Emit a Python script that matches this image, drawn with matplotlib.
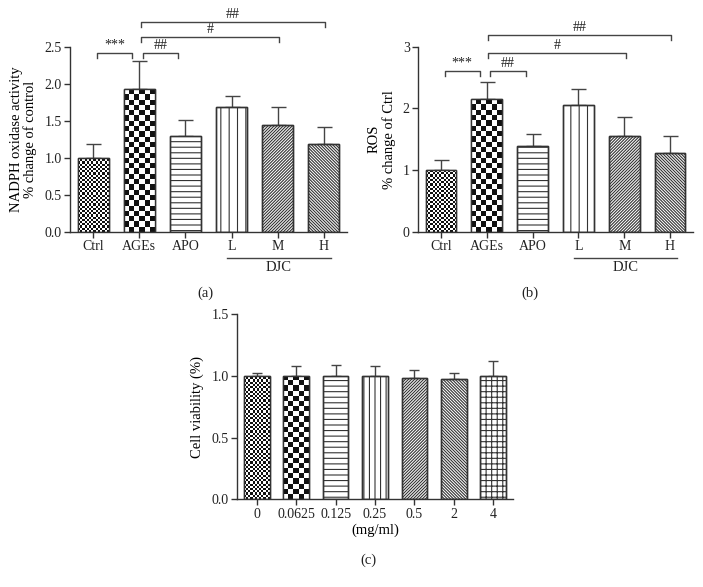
import numpy as np
import matplotlib
matplotlib.use("Agg")
import matplotlib.pyplot as plt
from matplotlib.colors import ListedColormap
from matplotlib.transforms import blended_transform_factory

plt.rcParams['font.family'] = ['Liberation Serif', 'DejaVu Serif']
plt.rcParams['font.size'] = 10
plt.rcParams['hatch.linewidth'] = 0.8
plt.rcParams['hatch.color'] = '#333333'
plt.rcParams['text.color'] = '#222222'
plt.rcParams['xtick.color'] = '#333333'
plt.rcParams['ytick.color'] = '#333333'
plt.rcParams['xtick.labelcolor'] = '#222222'
plt.rcParams['ytick.labelcolor'] = '#222222'

# ---- data ----
groups_ab = ['Ctrl', 'AGEs', 'APO', 'L', 'M', 'H']
nadph_mean = [1.00, 1.93, 1.29, 1.69, 1.44, 1.18]
nadph_err = [0.19, 0.37, 0.22, 0.14, 0.24, 0.23]
ros_mean = [1.00, 2.15, 1.39, 2.05, 1.55, 1.27]
ros_err = [0.17, 0.28, 0.19, 0.26, 0.31, 0.28]

dose_labels = ['0', '0.0625', '0.125', '0.25', '0.5', '2', '4']
viab_mean = [1.00, 1.00, 1.00, 1.00, 0.98, 0.97, 1.00]
viab_err = [0.02, 0.08, 0.09, 0.08, 0.07, 0.05, 0.12]

# (left index, right index, height, label)
sig_a = [(0, 1, 2.42, '***'), (1, 2, 2.42, '##'), (1, 4, 2.63, '#'), (1, 5, 2.84, '##')]
sig_b = [(0, 1, 2.61, '***'), (1, 2, 2.61, '##'), (1, 4, 2.89, '#'), (1, 5, 3.19, '##')]
djc_group = [3, 4, 5]

# 'fine' / 'checker' are drawn as checkerboards, the rest are mpl hatches
NE = '/' * 11
SE = '\\' * 11
pat_ab = ['fine', 'checker', '---', '||', NE, SE]
pat_c = ['fine', 'checker', '---', '|||', NE, SE, '+++']

EDGE = '#333333'
W, H = 703, 587


def add_checker(ax, bar, cell_px):
    x0, y0 = bar.get_x(), bar.get_y()
    w, h = bar.get_width(), bar.get_height()
    (px0, py0), (px1, py1) = ax.transData.transform([(x0, y0), (x0 + w, y0 + h)])
    nc = max(1, int(round(abs(px1 - px0) / cell_px)))
    nr = max(1, int(round(abs(py1 - py0) / cell_px)))
    grid = np.add.outer(np.arange(nr), np.arange(nc)) % 2
    im = ax.imshow(grid, extent=(x0, x0 + w, y0, y0 + h), origin='lower',
                   cmap=ListedColormap(['white', '#111111']),
                   interpolation='nearest', aspect='auto', zorder=2.1)
    im.set_clip_path(bar)


def bar_panel(rect, means, errs, labels, patterns, ylim, yticks, yfmt,
              ylabel, width, capsize):
    ax = fig.add_axes(rect)
    x = np.arange(len(means))
    ax.errorbar(x, means, yerr=[np.zeros(len(errs)), errs], fmt='none',
                ecolor='#444444', elinewidth=1, capsize=capsize, capthick=1,
                zorder=1)
    hatches = [p if p not in ('fine', 'checker') else None for p in patterns]
    bars = ax.bar(x, means, width, color='white', edgecolor=EDGE,
                  linewidth=1, hatch=hatches, zorder=2)
    ax.set_xlim(-0.5, len(means) - 0.5)
    ax.set_ylim(*ylim)
    for b, p in zip(bars, patterns):
        if p == 'fine':
            add_checker(ax, b, 2.2)
        elif p == 'checker':
            add_checker(ax, b, 5.2)
    ax.bar(x, means, width, fill=False, edgecolor=EDGE, linewidth=1, zorder=3)
    ax.set_xlim(-0.5, len(means) - 0.5)
    ax.set_ylim(*ylim)

    ax.spines[['top', 'right']].set_visible(False)
    for s in ('left', 'bottom'):
        ax.spines[s].set_color(EDGE)
        ax.spines[s].set_linewidth(1)
    ax.set_xticks(x, labels)
    ax.set_yticks(yticks, [yfmt.format(t) for t in yticks])
    ax.tick_params(direction='out', length=4, width=1, labelsize=10, pad=2)
    ax.set_ylabel(ylabel, fontsize=10.5, linespacing=1.1, labelpad=5)
    return ax


def add_brackets(ax, sigs, drop):
    for i, j, y, txt in sigs:
        if j - i == 1:
            x0, x1 = i + 0.08, j - 0.15
        else:
            x0, x1 = i + 0.03, j + 0.03
        ax.plot([x0, x0, x1, x1], [y - drop, y, y, y - drop], color='#444444',
                lw=1, clip_on=False)
        ax.text((x0 + x1) / 2, y + drop * 0.2, txt, ha='center', va='bottom',
                fontsize=10)


def add_djc(ax, idx):
    tr = blended_transform_factory(ax.transData, ax.transAxes)
    x0, x1 = idx[0] - 0.1, idx[-1] + 0.15
    ax.plot([x0, x1], [-0.142, -0.142], color='#444444', lw=1,
            transform=tr, clip_on=False)
    ax.text((x0 + x1) / 2, -0.196, 'DJC', transform=tr, ha='center',
            va='center', fontsize=10.5)


fig = plt.figure(figsize=(W / 100, H / 100), dpi=100)

ax_a = bar_panel([70 / W, 1 - 231.7 / H, 277 / W, 185 / H], nadph_mean,
                 nadph_err, groups_ab, pat_ab, (0, 2.5),
                 [0, 0.5, 1.0, 1.5, 2.0, 2.5], '{:.1f}',
                 'NADPH oxidase activity\n% change of control', 0.67, 5.4)
add_brackets(ax_a, sig_a, 0.068)
add_djc(ax_a, djc_group)

ax_b = bar_panel([418 / W, 1 - 231.7 / H, 275 / W, 185 / H], ros_mean,
                 ros_err, groups_ab, pat_ab, (0, 3), [0, 1, 2, 3], '{:d}',
                 'ROS\n% change of Ctrl', 0.67, 5.4)
add_brackets(ax_b, sig_b, 0.081)
add_djc(ax_b, djc_group)

ax_c = bar_panel([237 / W, 1 - 499.3 / H, 276 / W, 185.3 / H], viab_mean,
                 viab_err, dose_labels, pat_c, (0, 1.5),
                 [0, 0.5, 1.0, 1.5], '{:.1f}', 'Cell viability (%)', 0.65, 3.6)
ax_c.set_xlabel('(mg/ml)', fontsize=10.5, labelpad=2)

fig.text(205 / W, 1 - 293 / H, '(a)', ha='center', va='center', fontsize=10.5)
fig.text(530 / W, 1 - 293 / H, '(b)', ha='center', va='center', fontsize=10.5)
fig.text(368 / W, 1 - 560 / H, '(c)', ha='center', va='center', fontsize=10.5)

fig.savefig('out.png', dpi=100)
